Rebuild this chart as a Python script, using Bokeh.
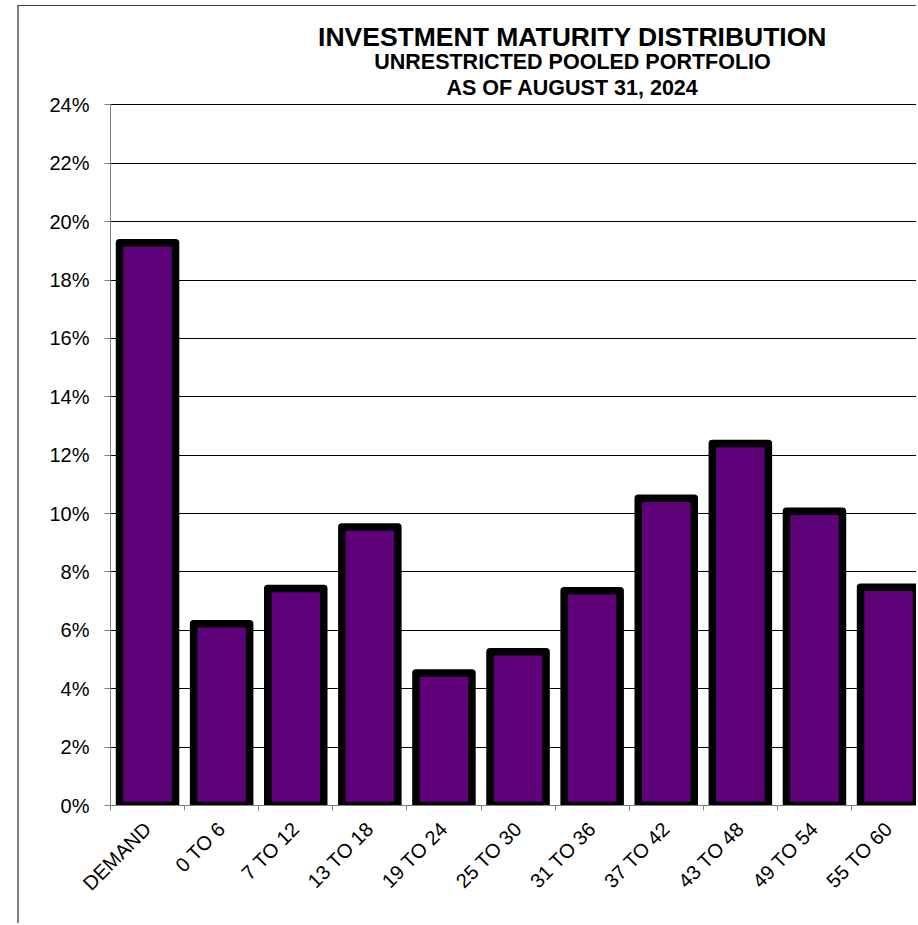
from bokeh.plotting import figure
from bokeh.models import Range1d, FixedTicker, PrintfTickFormatter, Label, ColumnDataSource
from bokeh.embed import file_html
from bokeh.resources import INLINE
import math

categories = ["DEMAND", "0 TO 6", "7 TO 12", "13 TO 18", "19 TO 24", "25 TO 30",
              "31 TO 36", "37 TO 42", "43 TO 48", "49 TO 54", "55 TO 60"]
values = [19.28, 6.23, 7.43, 9.54, 4.54, 5.27, 7.36, 10.53, 12.40, 10.08, 7.48]
y_ticks = list(range(0, 25, 2))
y_max = 24
title_lines = ["INVESTMENT MATURITY DISTRIBUTION",
               "UNRESTRICTED POOLED PORTFOLIO",
               "AS OF AUGUST 31, 2024"]

FONT = "Liberation Sans"
W, H = 899, 918
ML, MB = 91, 119
frame_w = W - ML
frame_h = H - MB
cat_px = 74.1          # pixels per category
px_per_unit = 29.19    # pixels per percentage point
x_end = frame_w / cat_px
y_top = frame_h / px_per_unit

centers = [i + 0.5 for i in range(len(categories))]
bounds = list(range(len(categories) + 1))
src = ColumnDataSource(dict(x=centers, top=values, cat=categories))

p = figure(width=W, height=H, output_backend="svg", toolbar_location=None,
           x_range=Range1d(0, x_end), y_range=Range1d(0, y_top),
           min_border_left=ML, min_border_right=0, min_border_top=0,
           min_border_bottom=MB)
p.margin = (5, 0, 0, 17)
p.styles = {"border-left": "2px solid #808080", "border-top": "1px solid #404040"}
p.outline_line_color = None
p.background_fill_color = "white"
p.border_fill_color = "white"

p.vbar(x="x", top="top", bottom=0, width=0.756, source=src,
       fill_color="#5E0078", line_color="black", line_width=7.5,
       line_join="round")

# y axis
p.yaxis.ticker = FixedTicker(ticks=y_ticks)
p.yaxis.bounds = (0, y_max)
p.yaxis.formatter = PrintfTickFormatter(format="%d%%")
p.yaxis.axis_line_color = "#808080"
p.yaxis.major_tick_line_color = "#808080"
p.yaxis.major_tick_out = 6
p.yaxis.major_tick_in = 0
p.yaxis.minor_tick_line_color = None
p.yaxis.major_label_text_font = FONT
p.yaxis.major_label_text_font_size = "20px"
p.yaxis.major_label_text_color = "black"
p.yaxis.major_label_standoff = 15

# x axis
p.xaxis.ticker = FixedTicker(ticks=centers, minor_ticks=bounds)
p.xaxis.major_label_overrides = {c: lab for c, lab in zip(centers, categories)}
p.xaxis.axis_line_color = "#808080"
p.xaxis.major_tick_line_color = None
p.xaxis.major_tick_out = 0
p.xaxis.major_tick_in = 0
p.xaxis.minor_tick_line_color = "#808080"
p.xaxis.minor_tick_out = 5
p.xaxis.minor_tick_in = 0
p.xaxis.major_label_orientation = math.pi / 4
p.xaxis.major_label_text_font = FONT
p.xaxis.major_label_text_font_size = "20px"
p.xaxis.major_label_text_color = "black"
p.xaxis.major_label_standoff = 15

p.xgrid.visible = False
p.ygrid.ticker = FixedTicker(ticks=y_ticks)
p.ygrid.grid_line_color = "black"
p.ygrid.grid_line_width = 1

# titles (screen units, relative to the plot frame)
title_x = 462
sizes = ["26.5px", "21.5px", "21.5px"]
baseline_from_bottom = [769, 744, 718]
for txt, fs, b in zip(title_lines, sizes, baseline_from_bottom):
    p.add_layout(Label(x=title_x, y=b, x_units="screen", y_units="screen",
                       text=txt, text_font=FONT, text_font_size=fs,
                       text_font_style="bold", text_align="center",
                       text_baseline="alphabetic", text_color="black"))

open("out.html", "w").write(file_html(p, INLINE))
